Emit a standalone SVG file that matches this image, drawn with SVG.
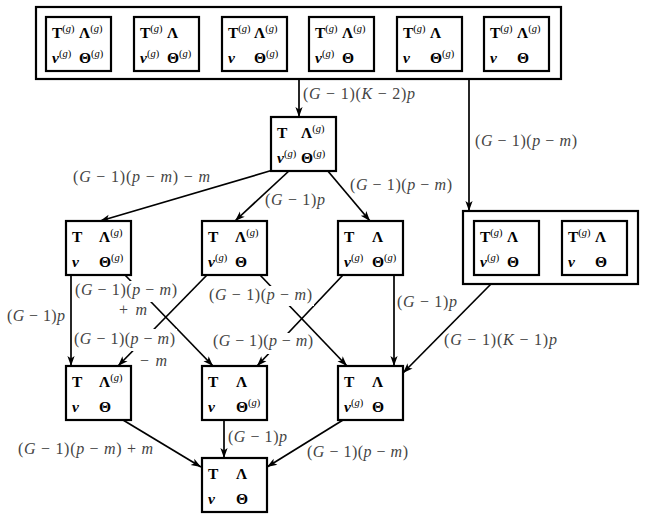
<svg xmlns="http://www.w3.org/2000/svg" width="645" height="519" viewBox="0 0 645 519">
<defs>
<style>
.b{fill:#fff;stroke:#000;stroke-width:2.2}
.o{fill:none;stroke:#000;stroke-width:2.2}
.n{font-family:'Liberation Serif','DejaVu Serif',serif;font-size:15.5px;font-weight:bold;fill:#000}
.s{font-size:10.5px;font-weight:normal}
.i{font-style:italic}
.c{fill:none;stroke:#000;stroke-width:1.7;marker-end:url(#ah)}
.l{font-family:'Liberation Serif','DejaVu Serif',serif;font-size:16px;fill:#444}
.bg{fill:#fff;stroke:none}
</style>
<marker id="ah" viewBox="-11 -5 12 10" refX="0" refY="0" markerWidth="12" markerHeight="10" markerUnits="userSpaceOnUse" orient="auto">
<path d="M0,0 L-10,-3.6 L-7.5,0 L-10,3.6 Z" fill="#000"/>
</marker>
</defs>
<rect width="645" height="519" fill="#fff"/>

<g id="connectors">
<line class="c" x1="299" y1="79" x2="299" y2="117"/>
<line class="c" x1="469" y1="79" x2="469" y2="211"/>
<line class="c" x1="273" y1="170" x2="100" y2="221"/>
<line class="c" x1="290" y1="170" x2="235" y2="221"/>
<line class="c" x1="327" y1="170" x2="370" y2="221"/>
<line class="c" x1="71" y1="275" x2="71" y2="366"/>
<line class="c" x1="125" y1="275" x2="213" y2="366"/>
<line class="c" x1="207" y1="275" x2="118" y2="366"/>
<line class="c" x1="260" y1="275" x2="347" y2="366"/>
<line class="c" x1="343" y1="275" x2="257" y2="366"/>
<line class="c" x1="394" y1="275" x2="394" y2="366"/>
<line class="c" x1="491" y1="284" x2="403" y2="373"/>
<line class="c" x1="123" y1="420" x2="201" y2="467"/>
<line class="c" x1="224" y1="420" x2="224" y2="458"/>
<line class="c" x1="343" y1="420" x2="267" y2="467"/>
</g>

<g id="labels" font-family="'Liberation Serif','DejaVu Serif',serif">
<text class="l" x="303" y="99" textLength="112">(<tspan class="i">G</tspan> − 1)(<tspan class="i">K</tspan> − 2)<tspan class="i">p</tspan></text>
<text class="l" x="475" y="146" textLength="102">(<tspan class="i">G</tspan> − 1)(<tspan class="i">p</tspan> − <tspan class="i">m</tspan>)</text>
<text class="l" x="73" y="182" textLength="137">(<tspan class="i">G</tspan> − 1)(<tspan class="i">p</tspan> − <tspan class="i">m</tspan>) − <tspan class="i">m</tspan></text>
<text class="l" x="265" y="205" textLength="60">(<tspan class="i">G</tspan> − 1)<tspan class="i">p</tspan></text>
<text class="l" x="350" y="190" textLength="102">(<tspan class="i">G</tspan> − 1)(<tspan class="i">p</tspan> − <tspan class="i">m</tspan>)</text>
<text class="l" x="7" y="321" textLength="58">(<tspan class="i">G</tspan> − 1)<tspan class="i">p</tspan></text>
<rect class="bg" x="73" y="281" width="105" height="21"/>
<text class="l" x="75" y="295" textLength="102">(<tspan class="i">G</tspan> − 1)(<tspan class="i">p</tspan> − <tspan class="i">m</tspan>)</text>
<text class="l" x="119" y="315" textLength="28">+ <tspan class="i">m</tspan></text>
<rect class="bg" x="207" y="286" width="107" height="20"/>
<text class="l" x="209" y="300" textLength="103">(<tspan class="i">G</tspan> − 1)(<tspan class="i">p</tspan> − <tspan class="i">m</tspan>)</text>
<rect class="bg" x="72" y="329" width="105" height="22"/>
<text class="l" x="74" y="344" textLength="101">(<tspan class="i">G</tspan> − 1)(<tspan class="i">p</tspan> − <tspan class="i">m</tspan>)</text>
<text class="l" x="140" y="366" textLength="27">− <tspan class="i">m</tspan></text>
<rect class="bg" x="211" y="333" width="103" height="21"/>
<text class="l" x="213" y="346" textLength="100">(<tspan class="i">G</tspan> − 1)(<tspan class="i">p</tspan> − <tspan class="i">m</tspan>)</text>
<text class="l" x="397" y="307" textLength="60">(<tspan class="i">G</tspan> − 1)<tspan class="i">p</tspan></text>
<text class="l" x="444" y="345" textLength="113">(<tspan class="i">G</tspan> − 1)(<tspan class="i">K</tspan> − 1)<tspan class="i">p</tspan></text>
<text class="l" x="18" y="454" textLength="135">(<tspan class="i">G</tspan> − 1)(<tspan class="i">p</tspan> − <tspan class="i">m</tspan>) + <tspan class="i">m</tspan></text>
<text class="l" x="228" y="442" textLength="59">(<tspan class="i">G</tspan> − 1)<tspan class="i">p</tspan></text>
<text class="l" x="307" y="457" textLength="101">(<tspan class="i">G</tspan> − 1)(<tspan class="i">p</tspan> − <tspan class="i">m</tspan>)</text>
</g>

<g id="top-group">
<rect class="o" x="36" y="7" width="525" height="72"/>
</g>

<g font-family="'Liberation Serif','DejaVu Serif',serif">
<g id="t1">
<rect class="b" x="46" y="17" width="65" height="54"/>
<text class="n" x="52" y="38">T<tspan class="s" dy="-6">(<tspan class="i">g</tspan>)</tspan></text>
<text class="n" x="79" y="38">Λ<tspan class="s" dy="-6">(<tspan class="i">g</tspan>)</tspan></text>
<text class="n" x="52" y="63"><tspan class="i">ν</tspan><tspan class="s" dy="-6">(<tspan class="i">g</tspan>)</tspan></text>
<text class="n" x="79" y="63">Θ<tspan class="s" dy="-6">(<tspan class="i">g</tspan>)</tspan></text>
</g>
<g id="t2">
<rect class="b" x="134" y="17" width="65" height="54"/>
<text class="n" x="140" y="38">T<tspan class="s" dy="-6">(<tspan class="i">g</tspan>)</tspan></text>
<text class="n" x="167" y="38">Λ</text>
<text class="n" x="140" y="63"><tspan class="i">ν</tspan><tspan class="s" dy="-6">(<tspan class="i">g</tspan>)</tspan></text>
<text class="n" x="167" y="63">Θ<tspan class="s" dy="-6">(<tspan class="i">g</tspan>)</tspan></text>
</g>
<g id="t3">
<rect class="b" x="222" y="17" width="65" height="54"/>
<text class="n" x="228" y="38">T<tspan class="s" dy="-6">(<tspan class="i">g</tspan>)</tspan></text>
<text class="n" x="254" y="38">Λ<tspan class="s" dy="-6">(<tspan class="i">g</tspan>)</tspan></text>
<text class="n i" x="228" y="63">ν</text>
<text class="n" x="254" y="63">Θ<tspan class="s" dy="-6">(<tspan class="i">g</tspan>)</tspan></text>
</g>
<g id="t4">
<rect class="b" x="309" y="17" width="65" height="54"/>
<text class="n" x="315" y="38">T<tspan class="s" dy="-6">(<tspan class="i">g</tspan>)</tspan></text>
<text class="n" x="342" y="38">Λ<tspan class="s" dy="-6">(<tspan class="i">g</tspan>)</tspan></text>
<text class="n" x="315" y="63"><tspan class="i">ν</tspan><tspan class="s" dy="-6">(<tspan class="i">g</tspan>)</tspan></text>
<text class="n" x="342" y="63">Θ</text>
</g>
<g id="t5">
<rect class="b" x="397" y="17" width="65" height="54"/>
<text class="n" x="403" y="38">T<tspan class="s" dy="-6">(<tspan class="i">g</tspan>)</tspan></text>
<text class="n" x="430" y="38">Λ</text>
<text class="n i" x="403" y="63">ν</text>
<text class="n" x="430" y="63">Θ<tspan class="s" dy="-6">(<tspan class="i">g</tspan>)</tspan></text>
</g>
<g id="t6">
<rect class="b" x="484" y="17" width="65" height="54"/>
<text class="n" x="490" y="38">T<tspan class="s" dy="-6">(<tspan class="i">g</tspan>)</tspan></text>
<text class="n" x="517" y="38">Λ<tspan class="s" dy="-6">(<tspan class="i">g</tspan>)</tspan></text>
<text class="n i" x="490" y="63">ν</text>
<text class="n" x="517" y="63">Θ</text>
</g>

<g id="center">
<rect class="b" x="271" y="117" width="65" height="54"/>
<text class="n" x="277" y="138">T</text>
<text class="n" x="301" y="138">Λ<tspan class="s" dy="-6">(<tspan class="i">g</tspan>)</tspan></text>
<text class="n" x="277" y="163"><tspan class="i">ν</tspan><tspan class="s" dy="-6">(<tspan class="i">g</tspan>)</tspan></text>
<text class="n" x="301" y="163">Θ<tspan class="s" dy="-6">(<tspan class="i">g</tspan>)</tspan></text>
</g>

<g id="right-group">
<rect class="o" x="463" y="211" width="175" height="73"/>
</g>
<g id="r1">
<rect class="b" x="474" y="221" width="65" height="54"/>
<text class="n" x="480" y="242">T<tspan class="s" dy="-6">(<tspan class="i">g</tspan>)</tspan></text>
<text class="n" x="507" y="242">Λ</text>
<text class="n" x="480" y="267"><tspan class="i">ν</tspan><tspan class="s" dy="-6">(<tspan class="i">g</tspan>)</tspan></text>
<text class="n" x="507" y="267">Θ</text>
</g>
<g id="r2">
<rect class="b" x="562" y="221" width="65" height="54"/>
<text class="n" x="568" y="242">T<tspan class="s" dy="-6">(<tspan class="i">g</tspan>)</tspan></text>
<text class="n" x="595" y="242">Λ</text>
<text class="n i" x="568" y="267">ν</text>
<text class="n" x="595" y="267">Θ</text>
</g>

<g id="a">
<rect class="b" x="66" y="221" width="65" height="54"/>
<text class="n" x="72" y="242">T</text>
<text class="n" x="99" y="242">Λ<tspan class="s" dy="-6">(<tspan class="i">g</tspan>)</tspan></text>
<text class="n i" x="72" y="267">ν</text>
<text class="n" x="99" y="267">Θ<tspan class="s" dy="-6">(<tspan class="i">g</tspan>)</tspan></text>
</g>
<g id="b">
<rect class="b" x="202" y="221" width="65" height="54"/>
<text class="n" x="208" y="242">T</text>
<text class="n" x="235" y="242">Λ<tspan class="s" dy="-6">(<tspan class="i">g</tspan>)</tspan></text>
<text class="n" x="208" y="267"><tspan class="i">ν</tspan><tspan class="s" dy="-6">(<tspan class="i">g</tspan>)</tspan></text>
<text class="n" x="235" y="267">Θ</text>
</g>
<g id="c">
<rect class="b" x="338" y="221" width="65" height="54"/>
<text class="n" x="344" y="242">T</text>
<text class="n" x="372" y="242">Λ</text>
<text class="n" x="344" y="267"><tspan class="i">ν</tspan><tspan class="s" dy="-6">(<tspan class="i">g</tspan>)</tspan></text>
<text class="n" x="372" y="267">Θ<tspan class="s" dy="-6">(<tspan class="i">g</tspan>)</tspan></text>
</g>

<g id="d">
<rect class="b" x="66" y="366" width="65" height="54"/>
<text class="n" x="72" y="387">T</text>
<text class="n" x="99" y="387">Λ<tspan class="s" dy="-6">(<tspan class="i">g</tspan>)</tspan></text>
<text class="n i" x="72" y="412">ν</text>
<text class="n" x="99" y="412">Θ</text>
</g>
<g id="e">
<rect class="b" x="202" y="366" width="65" height="54"/>
<text class="n" x="208" y="387">T</text>
<text class="n" x="236" y="387">Λ</text>
<text class="n i" x="208" y="412">ν</text>
<text class="n" x="236" y="412">Θ<tspan class="s" dy="-6">(<tspan class="i">g</tspan>)</tspan></text>
</g>
<g id="f">
<rect class="b" x="338" y="366" width="65" height="54"/>
<text class="n" x="344" y="387">T</text>
<text class="n" x="372" y="387">Λ</text>
<text class="n" x="344" y="412"><tspan class="i">ν</tspan><tspan class="s" dy="-6">(<tspan class="i">g</tspan>)</tspan></text>
<text class="n" x="372" y="412">Θ</text>
</g>

<g id="g">
<rect class="b" x="202" y="458" width="65" height="54"/>
<text class="n" x="208" y="479">T</text>
<text class="n" x="236" y="479">Λ</text>
<text class="n i" x="208" y="504">ν</text>
<text class="n" x="236" y="504">Θ</text>
</g>
</g>
</svg>
